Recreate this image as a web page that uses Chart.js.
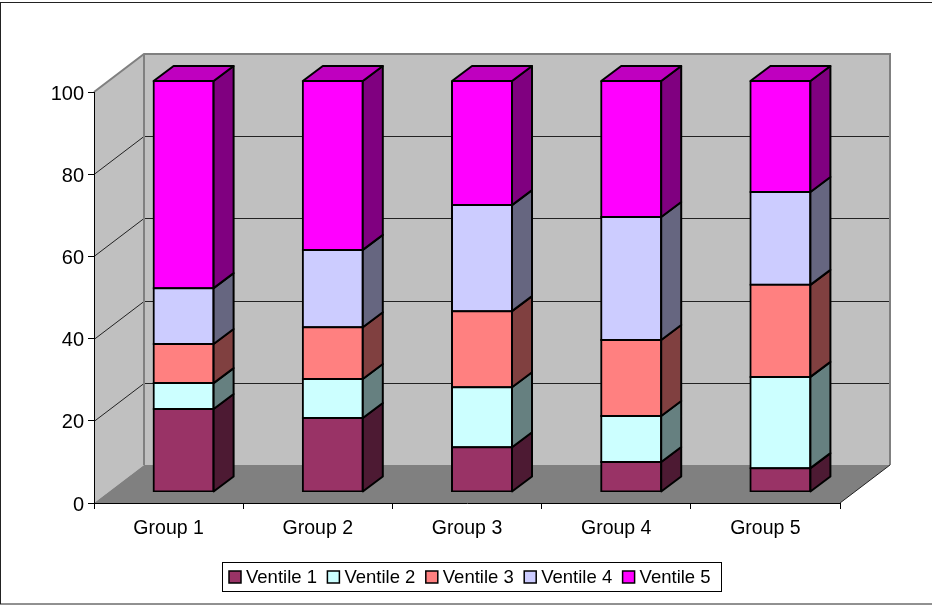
<!DOCTYPE html>
<html lang="en">
<head>
    <meta charset="UTF-8">
    <title>Ventiles by group</title>
    <script src="https://cdn.jsdelivr.net/npm/chart.js"></script>
    <style>
        body { margin: 0; background: #fff; }
        canvas { display: block; }
    </style>
</head>
<body>
    <canvas id="myChart" width="932" height="605"></canvas>

    <script>
        const groups = ['Group 1', 'Group 2', 'Group 3', 'Group 4', 'Group 5'];
        const ventile1 = [20.2, 18, 10.9, 7.3, 5.8];
        const ventile2 = [6.3, 9.5, 14.6, 11.2, 22.2];
        const ventile3 = [9.5, 12.6, 18.5, 18.5, 22.4];
        const ventile4 = [13.6, 18.8, 25.8, 29.9, 22.6];
        const ventile5 = [50.4, 41.1, 30.2, 33.1, 27];
        const seriesNames = ['Ventile 1', 'Ventile 2', 'Ventile 3', 'Ventile 4', 'Ventile 5'];
        const seriesValues = [ventile1, ventile2, ventile3, ventile4, ventile5];
        const seriesColors = ['#993366', '#CCFFFF', '#FF8080', '#CCCCFF', '#FF00FF'];

        const FONT = '"Liberation Sans", Arial, sans-serif';
        // 3D offsets: wall depth, bar position on the floor, bar depth
        const wallDx = 50, wallDy = -38;
        const barDx = 15, barDy = -11;
        const sideDx = 20, sideDy = -15;

        function shade(hex, k) {
            const n = parseInt(hex.slice(1), 16);
            const r = Math.round((n >> 16) * k);
            const g = Math.round(((n >> 8) & 255) * k);
            const b = Math.round((n & 255) * k);
            return `rgb(${r},${g},${b})`;
        }

        function poly(ctx, pts, fill, stroke, width) {
            ctx.beginPath();
            pts.forEach((p, i) => i ? ctx.lineTo(p[0], p[1]) : ctx.moveTo(p[0], p[1]));
            ctx.closePath();
            if (fill) { ctx.fillStyle = fill; ctx.fill(); }
            if (stroke) { ctx.strokeStyle = stroke; ctx.lineWidth = width; ctx.stroke(); }
        }

        // frame, walls, floor and wall gridlines
        const wallsPlugin = {
            id: 'walls',
            beforeDraw(chart) {
                const { ctx, chartArea: a, scales: { y } } = chart;
                ctx.save();
                ctx.fillStyle = '#fff';
                ctx.fillRect(0, 0, chart.width, chart.height);
                ctx.strokeStyle = '#222';
                ctx.lineWidth = 1;
                ctx.strokeRect(0.5, 2.5, chart.width + 2, 601.5);

                const l = a.left, r = a.right, t = a.top, b = a.bottom;
                poly(ctx, [[l, t], [l + wallDx, t + wallDy], [l + wallDx, b + wallDy], [l, b]], '#C0C0C0');
                poly(ctx, [[l + wallDx, t + wallDy], [r + wallDx, t + wallDy], [r + wallDx, b + wallDy], [l + wallDx, b + wallDy]], '#C0C0C0');

                y.ticks.forEach(tick => {
                    if (tick.value === 0 || tick.value === 100) return;
                    const py = Math.round(y.getPixelForValue(tick.value)) + 0.5;
                    ctx.strokeStyle = '#222';
                    ctx.lineWidth = 1;
                    ctx.beginPath();
                    ctx.moveTo(l, py);
                    ctx.lineTo(l + wallDx, py + wallDy);
                    ctx.lineTo(r + wallDx, py + wallDy);
                    ctx.stroke();
                });

                ctx.strokeStyle = '#808080';
                ctx.lineWidth = 2;
                ctx.beginPath();
                ctx.moveTo(l, t);
                ctx.lineTo(l + wallDx, t + wallDy);
                ctx.lineTo(r + wallDx, t + wallDy);
                ctx.lineTo(r + wallDx, b + wallDy);
                ctx.moveTo(l + wallDx, t + wallDy);
                ctx.lineTo(l + wallDx, b + wallDy);
                ctx.stroke();

                poly(ctx, [[l, b], [r, b], [r + wallDx, b + wallDy], [l + wallDx, b + wallDy]], '#808080');
                ctx.strokeStyle = '#222';
                ctx.lineWidth = 1;
                ctx.beginPath();
                ctx.moveTo(r, b);
                ctx.lineTo(r + wallDx, b + wallDy);
                ctx.stroke();
                ctx.restore();
            }
        };

        // shifts the bars back from the axis and adds their side and top faces
        const barsPlugin = {
            id: 'bars3d',
            beforeDatasetsDraw(chart) {
                chart.ctx.save();
                chart.ctx.translate(barDx, barDy);
            },
            afterDatasetsDraw(chart) {
                const ctx = chart.ctx;
                ctx.lineJoin = 'round';
                chart.data.datasets.forEach((ds, i) => {
                    chart.getDatasetMeta(i).data.forEach(bar => {
                        const right = bar.x + bar.width / 2;
                        const left = bar.x - bar.width / 2;
                        const top = bar.y, base = bar.base;
                        poly(ctx, [[right, top], [right + sideDx, top + sideDy], [right + sideDx, base + sideDy], [right, base]],
                            shade(ds.backgroundColor, 0.5), '#000', 2);
                        if (i === chart.data.datasets.length - 1) {
                            poly(ctx, [[left, top], [left + sideDx, top + sideDy], [right + sideDx, top + sideDy], [right, top]],
                                shade(ds.backgroundColor, 0.75), '#000', 2);
                        }
                    });
                });
                ctx.restore();
            }
        };

        const legendPlugin = {
            id: 'boxLegend',
            afterDraw(chart) {
                const ctx = chart.ctx;
                ctx.save();
                ctx.fillStyle = '#fff';
                ctx.strokeStyle = '#000';
                ctx.lineWidth = 1;
                ctx.fillRect(222.5, 562.5, 499, 29);
                ctx.strokeRect(222.5, 562.5, 499, 29);
                ctx.font = '18.5px ' + FONT;
                ctx.textBaseline = 'middle';
                chart.data.datasets.forEach((ds, i) => {
                    const x = 229 + i * 98.4;
                    ctx.fillStyle = ds.backgroundColor;
                    ctx.fillRect(x, 571, 12, 12);
                    ctx.lineWidth = 1.5;
                    ctx.strokeRect(x, 571, 12, 12);
                    ctx.fillStyle = '#000';
                    ctx.fillText(ds.label, x + 17, 577.5);
                });
                ctx.restore();
            }
        };

        new Chart(document.getElementById('myChart'), {
            type: 'bar',
            data: {
                labels: groups,
                datasets: seriesNames.map((name, i) => ({
                    label: name,
                    data: seriesValues[i],
                    backgroundColor: seriesColors[i],
                    borderColor: '#000',
                    borderWidth: 2,
                    borderSkipped: false,
                    inflateAmount: 1,
                    barThickness: 60
                }))
            },
            options: {
                responsive: false,
                animation: false,
                layout: { autoPadding: false, padding: { left: 0, right: 92, top: 92, bottom: 2 } },
                plugins: { legend: { display: false }, tooltip: { enabled: false } },
                scales: {
                    x: {
                        stacked: true,
                        afterFit: s => { s.height = 100; },
                        border: { color: '#000', width: 1 },
                        grid: { drawOnChartArea: false, color: '#000', tickLength: 6, offset: true },
                        ticks: { color: '#000', font: { family: FONT, size: 19.5 }, padding: 8, maxRotation: 0 }
                    },
                    y: {
                        stacked: true,
                        min: 0,
                        max: 100,
                        afterFit: s => { s.width = 94; },
                        border: { color: '#000', width: 1 },
                        grid: { drawOnChartArea: false, color: '#000', tickLength: 6 },
                        ticks: { stepSize: 20, color: '#000', font: { family: FONT, size: 20 }, padding: 4, labelOffset: 2 }
                    }
                }
            },
            plugins: [wallsPlugin, barsPlugin, legendPlugin]
        });
    </script>
</body>
</html>
